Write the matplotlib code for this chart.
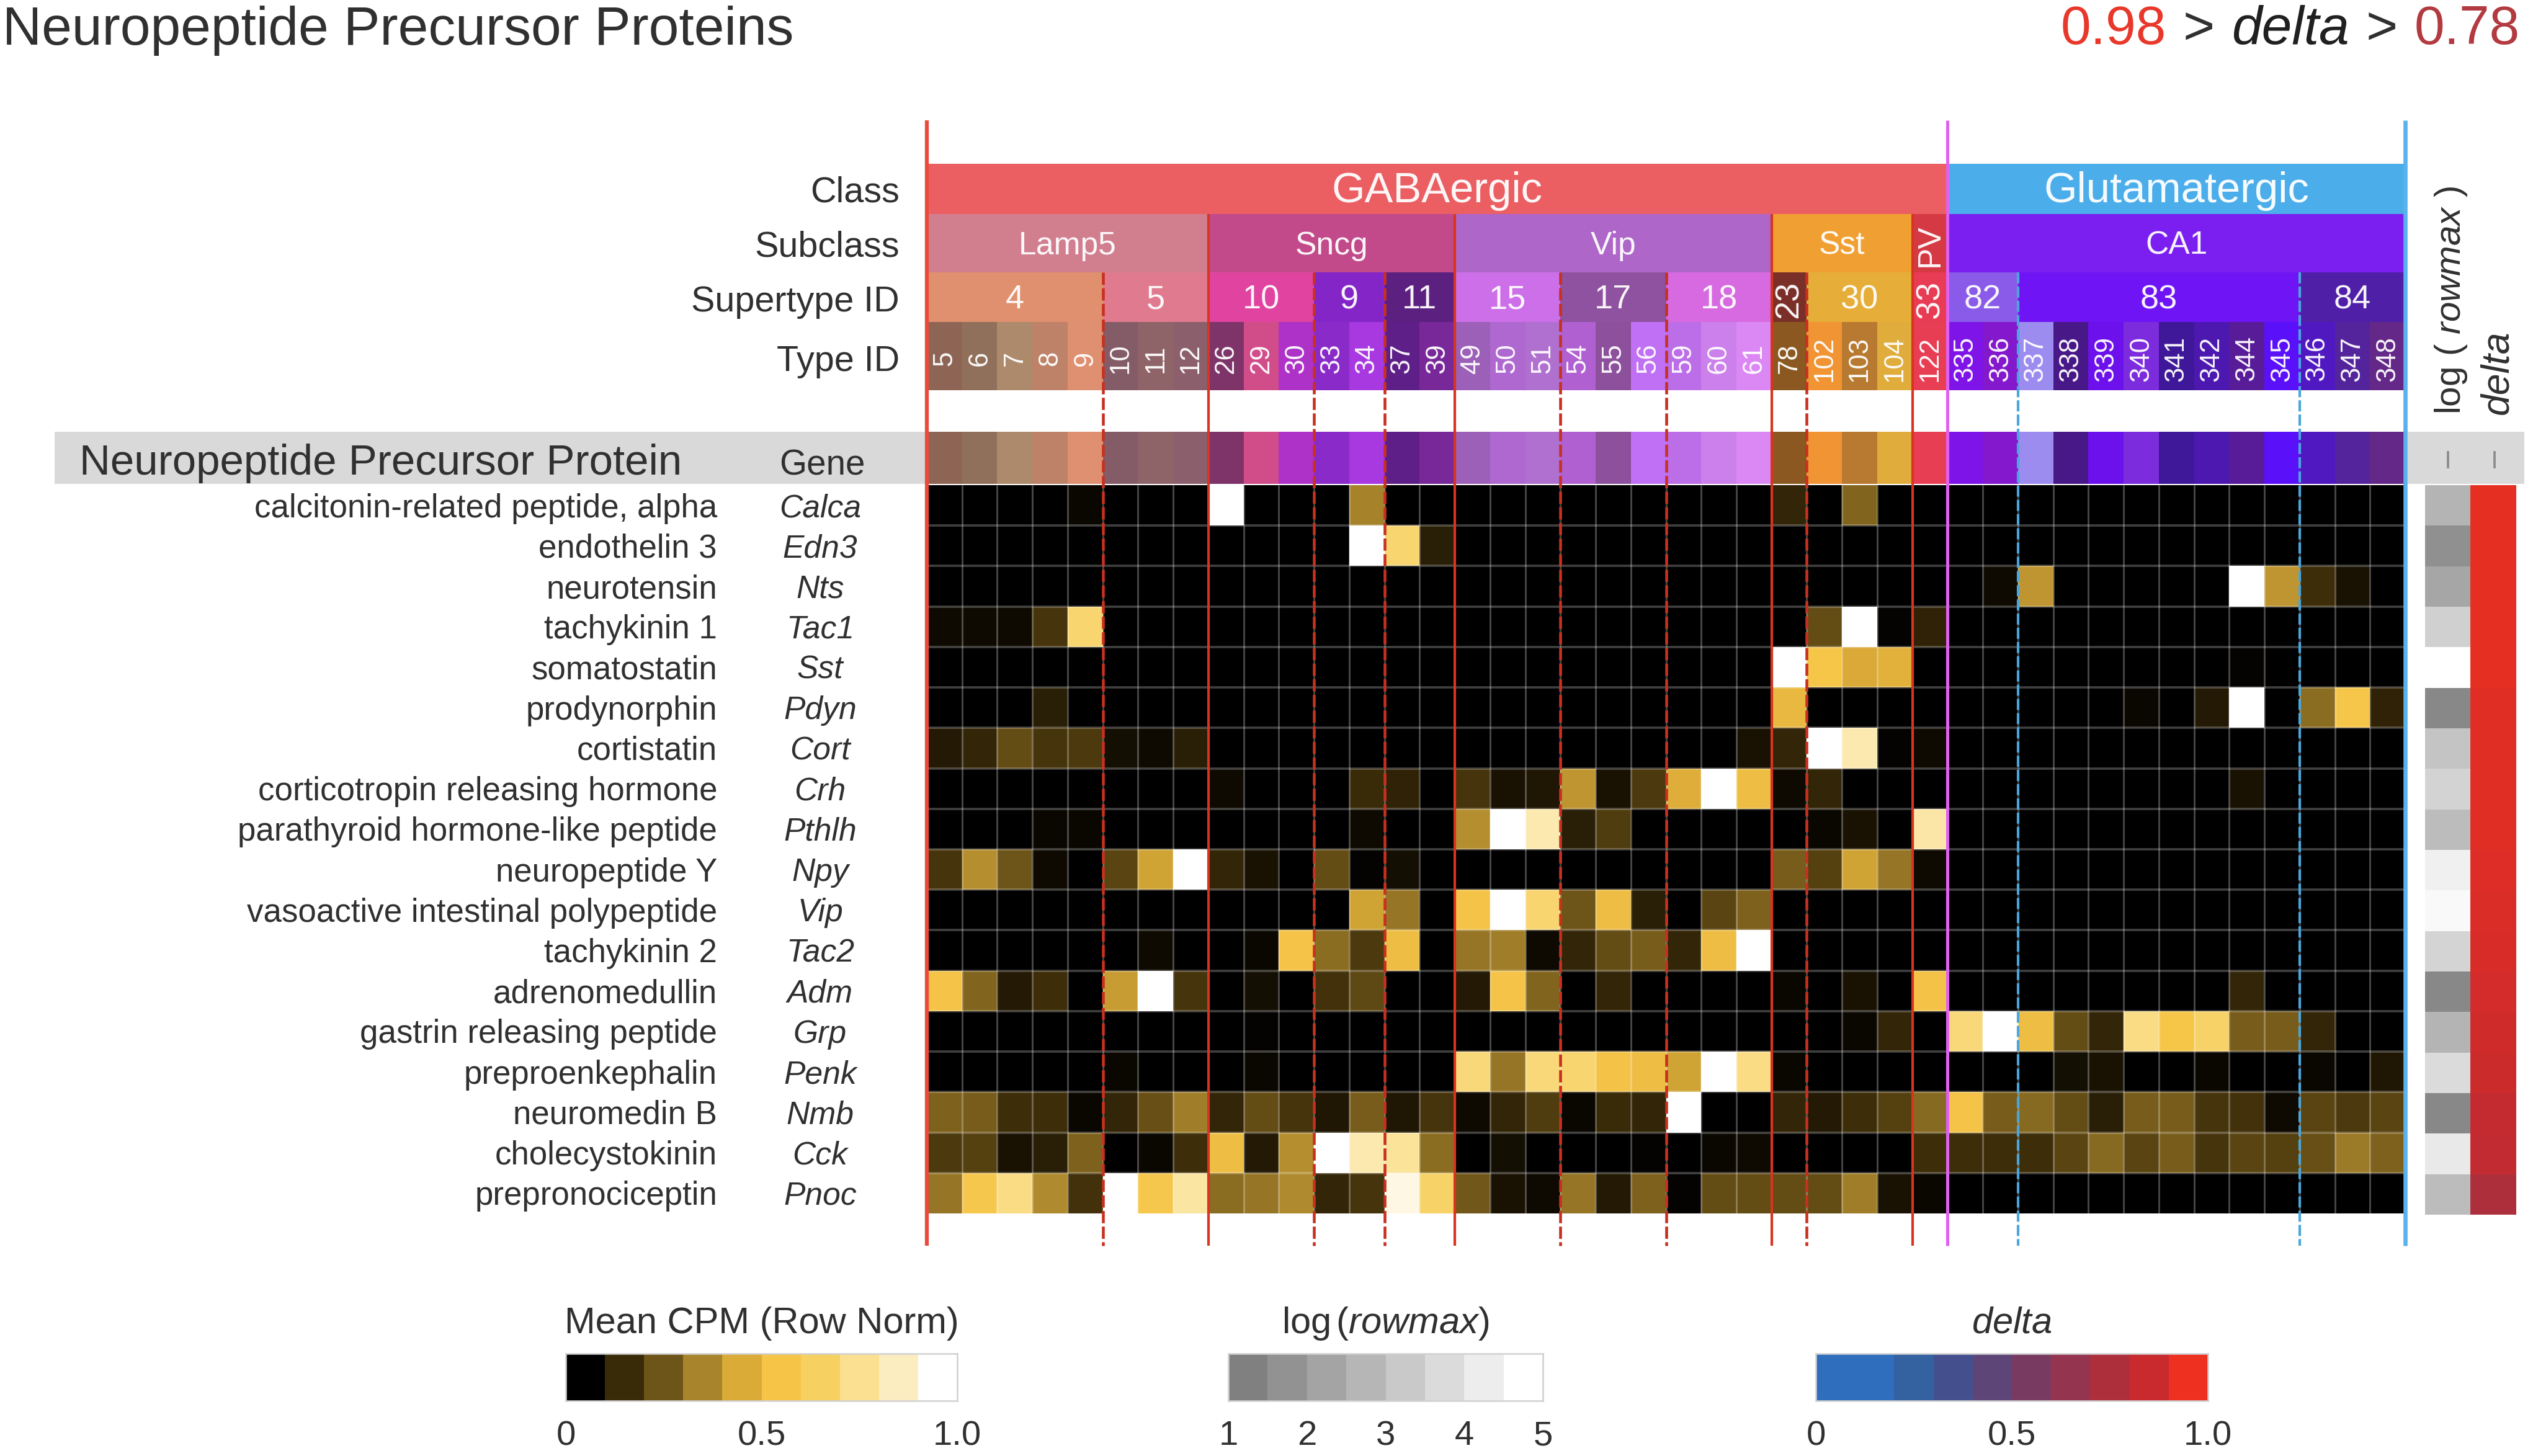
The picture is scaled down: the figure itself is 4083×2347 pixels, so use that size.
"""Neuropeptide precursor protein heatmap by cell type."""
import matplotlib
matplotlib.use('Agg')
import matplotlib.pyplot as plt
import numpy as np
from matplotlib.colors import LinearSegmentedColormap
from matplotlib.patches import Rectangle

plt.rcParams.update({
    'font.family': 'Liberation Sans',
    'mathtext.fontset': 'custom',
    'mathtext.rm': 'Liberation Sans',
    'mathtext.it': 'Liberation Sans:italic',
    'text.color': '#303030',
})

# ── Data ──
protein_names = [
    'calcitonin-related peptide, alpha', 'endothelin 3', 'neurotensin', 'tachykinin 1',
    'somatostatin', 'prodynorphin', 'cortistatin', 'corticotropin releasing hormone',
    'parathyroid hormone-like peptide', 'neuropeptide Y', 'vasoactive intestinal polypeptide',
    'tachykinin 2', 'adrenomedullin', 'gastrin releasing peptide', 'preproenkephalin',
    'neuromedin B', 'cholecystokinin', 'prepronociceptin',
]
gene_names = ['Calca', 'Edn3', 'Nts', 'Tac1', 'Sst', 'Pdyn', 'Cort', 'Crh', 'Pthlh',
              'Npy', 'Vip', 'Tac2', 'Adm', 'Grp', 'Penk', 'Nmb', 'Cck', 'Pnoc']

class_names = ['GABAergic', 'Glutamatergic']
class_spans = [29, 13]
class_colors = ['#eb5f63', '#4badea']

subclass_names = ['Lamp5', 'Sncg', 'Vip', 'Sst', 'PV', 'CA1']
subclass_spans = [8, 7, 9, 4, 1, 13]
subclass_colors = ['#d17e8f', '#c24a8a', '#ae66c8', '#f0a033', '#d53a44', '#7b1ff0']

supertype_names = ['4', '5', '10', '9', '11', '15', '17', '18', '23', '30', '33', '82', '83', '84']
supertype_spans = [5, 3, 3, 2, 2, 3, 3, 3, 1, 3, 1, 2, 8, 3]
supertype_colors = ['#e0906e', '#e07a8e', '#e044a0', '#8425c8', '#5c2080', '#cc6fe8', '#8e52a0',
                    '#d76ae0', '#7a3028', '#e6ae38', '#e83c55', '#8a5be8', '#6f14f4', '#4f1fa8']

type_ids = [5, 6, 7, 8, 9, 10, 11, 12, 26, 29, 30, 33, 34, 37, 39, 49, 50, 51, 54, 55, 56,
            59, 60, 61, 78, 102, 103, 104, 122, 335, 336, 337, 338, 339, 340, 341, 342,
            344, 345, 346, 347, 348]
type_colors = ['#8e6555', '#90705a', '#ad8a6c', '#bd8268', '#df9070', '#845c68', '#8f6468',
               '#8c5f6c', '#7e3468', '#d14d8a', '#ae32c8', '#8a2ac8', '#a838e0', '#5e2088',
               '#782898', '#9c60b8', '#ae68d0', '#b070d0', '#b060d0', '#8c509c', '#c070f4',
               '#bc6ee8', '#cc80ec', '#dc88f4', '#8a5820', '#f09434', '#b87a30', '#e0ac3c',
               '#e83e54', '#7e14e8', '#8418cc', '#9c8cf0', '#481888', '#6c10ec', '#7c2cdc',
               '#3e1898', '#4c18b0', '#581c98', '#5a10f8', '#5018c0', '#54249c', '#642888']

# Mean CPM, row normalised: one row per gene, one column per type
mean_cpm = [
    [0, 0, 0, 0, .02, 0, 0, 0, 1, 0, 0, 0, .33, 0, 0,
     0, 0, 0, 0, 0, 0, 0, 0, 0, .10, 0, .26, 0, 0,
     0, 0, 0, 0, 0, 0, 0, 0, 0, 0, 0, 0, 0],
    [0, 0, 0, 0, 0, 0, 0, 0, 0, 0, 0, 0, 1, .70, .08,
     0, 0, 0, 0, 0, 0, 0, 0, 0, 0, 0, 0, 0, 0,
     0, 0, 0, 0, 0, 0, 0, 0, 0, 0, 0, 0, 0],
    [0, 0, 0, 0, 0, 0, 0, 0, 0, 0, 0, 0, 0, 0, 0,
     0, 0, 0, 0, 0, 0, 0, 0, 0, 0, 0, 0, 0, 0,
     0, .03, .38, 0, 0, 0, 0, 0, 1, .38, .12, .05, 0],
    [.03, .03, .03, .14, .70, 0, 0, 0, 0, 0, 0, 0, 0, 0, 0,
     0, 0, 0, 0, 0, 0, 0, 0, 0, 0, .20, 1, .01, .09,
     0, 0, 0, 0, 0, 0, 0, 0, 0, 0, 0, 0, 0],
    [0, 0, 0, 0, 0, 0, 0, 0, 0, 0, 0, 0, 0, 0, 0,
     0, 0, 0, 0, 0, 0, 0, 0, 0, 1, .56, .44, .47, 0,
     0, 0, 0, 0, 0, 0, 0, 0, .01, 0, 0, 0, 0],
    [0, 0, 0, .08, 0, 0, 0, 0, 0, 0, 0, 0, 0, 0, 0,
     0, 0, 0, 0, 0, 0, 0, 0, 0, .50, 0, 0, 0, 0,
     0, 0, 0, 0, 0, .02, 0, .07, 1, 0, .28, .57, .09],
    [.07, .10, .20, .14, .15, .04, .03, .08, 0, 0, 0, 0, 0, 0, 0,
     0, 0, 0, 0, 0, 0, 0, 0, .05, .10, 1, .85, .01, .03,
     0, 0, 0, 0, 0, 0, 0, 0, 0, 0, 0, 0, 0],
    [0, 0, 0, 0, 0, 0, 0, 0, .03, 0, 0, 0, .11, .09, 0,
     .14, .05, .06, .38, .05, .15, .46, 1, .52, .03, .10, 0, 0, 0,
     0, 0, 0, 0, 0, 0, 0, 0, .05, 0, 0, 0, 0],
    [0, 0, 0, .02, .02, 0, 0, 0, 0, 0, 0, 0, .03, 0, 0,
     .36, 1, .85, .08, .16, 0, 0, 0, 0, 0, .02, .05, 0, .83,
     0, 0, 0, 0, 0, 0, 0, 0, 0, 0, 0, 0, 0],
    [.14, .36, .22, .03, 0, .18, .42, 1, .10, .05, 0, .20, .01, .04, 0,
     0, 0, 0, 0, 0, 0, 0, 0, 0, .24, .17, .42, .30, .03,
     0, 0, 0, 0, 0, 0, 0, 0, 0, 0, 0, 0, 0],
    [0, 0, 0, 0, 0, 0, 0, 0, 0, 0, 0, 0, .42, .30, 0,
     .55, 1, .70, .22, .52, .08, 0, .18, .25, 0, 0, 0, 0, 0,
     0, 0, 0, 0, 0, 0, 0, 0, 0, 0, 0, 0, 0],
    [0, 0, 0, 0, 0, 0, .03, 0, 0, .02, .55, .28, .15, .52, 0,
     .30, .32, .03, .10, .20, .24, .10, .52, 1, 0, 0, 0, 0, 0,
     0, 0, 0, 0, 0, 0, 0, 0, 0, 0, 0, 0, 0],
    [.55, .26, .07, .12, 0, .40, 1, .14, 0, .04, 0, .13, .19, 0, 0,
     .07, .55, .26, 0, .10, 0, 0, 0, 0, .02, 0, .05, 0, .54,
     0, 0, 0, 0, 0, 0, 0, 0, .10, 0, 0, 0, 0],
    [0, 0, 0, 0, 0, 0, 0, 0, 0, .01, 0, 0, 0, 0, 0,
     0, 0, 0, 0, 0, 0, 0, 0, 0, 0, 0, .02, .10, 0,
     .72, 1, .52, .20, .10, .75, .56, .68, .24, .24, .10, 0, 0],
    [0, 0, 0, 0, 0, .02, 0, 0, 0, .02, 0, 0, 0, 0, 0,
     .72, .30, .72, .70, .54, .52, .42, 1, .75, .02, 0, 0, 0, 0,
     0, 0, 0, .04, .05, 0, 0, .02, 0, 0, .02, 0, .06],
    [.25, .24, .12, .12, .02, .10, .21, .32, .10, .20, .14, .06, .24, .06, .14,
     .03, .10, .16, .02, .11, .10, 1, 0, 0, .10, .07, .12, .17, .27,
     .55, .24, .27, .20, .08, .24, .24, .14, .13, .03, .18, .15, .18],
    [.15, .17, .05, .08, .25, 0, .02, .12, .52, .07, .36, 1, .85, .80, .28,
     0, .04, 0, 0, 0, .01, 0, .02, .03, 0, 0, 0, 0, .12,
     .12, .12, .12, .18, .27, .18, .24, .14, .18, .17, .21, .31, .25],
    [.30, .58, .75, .35, .13, 1, .58, .82, .28, .30, .35, .10, .14, .95, .68,
     .23, .05, .03, .30, .07, .25, .01, .20, .20, .20, .20, .32, .05, .02,
     0, 0, 0, 0, 0, 0, 0, 0, 0, 0, 0, 0, 0],
]
log_rowmax = [2.64, 1.5, 2.2, 3.5, 5.0, 1.25, 3.14, 3.6, 2.9,
              4.5, 4.8, 3.65, 1.25, 2.64, 3.85, 1.25, 4.3, 2.9]
delta_vals = [.97, .97, .97, .97, .97, .96, .96, .96, .96,
              .95, .94, .93, .92, .91, .90, .87, .86, .78]

# solid/dashed group boundaries, in columns
solid_red = [8, 15, 24, 28]
dashed_red = [5, 11, 13, 18, 21, 25]
dashed_blue = [31, 39]
first_line, class_line, last_line = 0, 29, 42

cpm_colors = ['#000000', '#3a2a08', '#6e5518', '#a8852c', '#dcab38',
              '#f6c548', '#f6d060', '#fbe090', '#fcedc0', '#ffffff']
delta_colors = ['#2e6ebc', '#2e6ebc', '#34619f', '#44508e', '#5e4578',
                '#793a62', '#94344e', '#ad2f3c', '#c82a2e', '#ee3020']
# legend swatches sit on the colour nodes, so both ends reach black/white and full red
cpm_levels = [0, .111, .222, .333, .444, .556, .667, .778, .889, 1]
rowmax_levels = [1, 1.57, 2.14, 2.71, 3.29, 3.86, 4.43, 5]
delta_levels = [0, .111, .222, .333, .444, .556, .667, .778, .889, 1]

cmap_cpm = LinearSegmentedColormap.from_list('cpm', cpm_colors)
cmap_rowmax = LinearSegmentedColormap.from_list('rowmax', ['#808080', '#ffffff'])
cmap_delta = LinearSegmentedColormap.from_list('delta', delta_colors)

W, H = 4083, 2347
fig = plt.figure(figsize=(W / 300, H / 300), dpi=300, facecolor='white')


def px_axes(x0, y0, x1, y1, zorder=1):
    ax = fig.add_axes([x0 / W, 1 - y1 / H, (x1 - x0) / W, (y1 - y0) / H], zorder=zorder)
    return ax


# Canvas in pixels, for the text and the grey gene row
canvas = px_axes(0, 0, W, H, zorder=0)
canvas.set_xlim(0, W)
canvas.set_ylim(H, 0)
canvas.axis('off')
canvas.add_patch(Rectangle((88, 696), 1406, 84, color='#d9d9d9', lw=0))
canvas.add_patch(Rectangle((3881, 696), 188, 84, color='#d9d9d9', lw=0))
canvas.vlines([3946, 4021], 727, 755, color='#8c8c8c', lw=0.9)

LEFT, RIGHT = 1494, 3877
TOP, BOTTOM = 782, 1956

# Heatmap
ax_heat = px_axes(LEFT, TOP, RIGHT, BOTTOM)
ax_heat.pcolormesh(np.arange(43), np.arange(19), np.array(mean_cpm), cmap=cmap_cpm, vmin=0, vmax=1)
ax_heat.vlines(np.arange(1, 42), 0, 18, color='white', alpha=0.28, lw=0.7)
ax_heat.hlines(np.arange(1, 18), 0, 42, color='white', alpha=0.25, lw=0.9)
ax_heat.set_xlim(0, 42)
ax_heat.set_ylim(18, 0)
ax_heat.axis('off')

# Header bands, x in columns and y in pixels
ax_head = px_axes(LEFT, 264, RIGHT, 780, zorder=3)
ax_head.set_xlim(0, 42)
ax_head.set_ylim(780, 264)
ax_head.axis('off')


def draw_band(names, spans, colors, top, bottom, size, vertical_below=2):
    starts = np.cumsum([0] + spans[:-1])
    ax_head.bar(starts, bottom - top, width=spans, bottom=top, align='edge', color=colors, lw=0)
    for name, start, span in zip(names, starts, spans):
        rot = 90 if span < vertical_below else 0
        ax_head.text(start + span / 2, (top + bottom) / 2 + 4, name, ha='center', va='center',
                     color='white', fontsize=size, rotation=rot, alpha=0.95)


draw_band(class_names, class_spans, class_colors, 264, 345, 16.5)
draw_band(subclass_names, subclass_spans, subclass_colors, 345, 439, 12.4)
draw_band(supertype_names, supertype_spans, supertype_colors, 439, 519, 13)

columns = np.arange(len(type_ids))
ax_head.bar(columns, 110, width=1, bottom=519, align='edge', color=type_colors, lw=0)
ax_head.bar(columns, 84, width=1, bottom=696, align='edge', color=type_colors, lw=0)
for col, type_id in zip(columns, type_ids):
    ax_head.text(col + 0.5, 578, str(type_id), ha='center', va='center', color='white',
                 fontsize=10.5, rotation=90, alpha=0.95)

# Group boundaries run through header and heatmap
LINE_END = 2008
ax_head.vlines(first_line, 194, LINE_END, color='#ea4a3c', lw=1.5, clip_on=False, zorder=5)
ax_head.vlines(class_line, 194, LINE_END, color='#e060f0', lw=1.2, clip_on=False, zorder=5)
ax_head.vlines(last_line, 194, LINE_END, color='#58b2ee', lw=1.6, clip_on=False, zorder=5)
ax_head.vlines(solid_red, 345, LINE_END, color='#d8341f', lw=1.0, clip_on=False, zorder=5)
ax_head.vlines(dashed_red, 439, LINE_END, color='#c8301f', lw=1.1,
               linestyles=(0, (4.3, 1.2)), clip_on=False, zorder=5)
ax_head.vlines(dashed_blue, 439, LINE_END, color='#4aa6dc', lw=1.0,
               linestyles=(0, (4.3, 1.2)), clip_on=False, zorder=5)

# log(rowmax) and delta side columns
ax_side = px_axes(3909, TOP, 4058, BOTTOM + 2)
edges = np.arange(19)
ax_side.pcolormesh([0, 1], edges, np.array(log_rowmax)[:, None], cmap=cmap_rowmax, vmin=1, vmax=5)
ax_side.pcolormesh([1, 2], edges, np.array(delta_vals)[:, None], cmap=cmap_delta, vmin=0, vmax=1)
ax_side.set_xlim(0, 2.03)
ax_side.set_ylim(18, 0)
ax_side.axis('off')

# Titles
canvas.text(4, 49, 'Neuropeptide Precursor Proteins', fontsize=21, ha='left', va='center')
renderer = fig.canvas.get_renderer()
title_parts = [('0.78', '#b23a40', 'normal'), ('>', '#303030', 'normal'), ('delta', '#202020', 'italic'),
               ('>', '#303030', 'normal'), ('0.98', '#e8382b', 'normal')]
x_right = 4062
for part, color, style in title_parts:
    txt = canvas.text(x_right, 49, part, color=color, style=style, fontsize=21,
                      ha='right', va='center')
    x_right -= txt.get_window_extent(renderer).width + 27

# Row and header labels
for label, y in zip(['Class', 'Subclass', 'Supertype ID', 'Type ID'], [310, 398, 487, 583]):
    canvas.text(1450, y, label, ha='right', va='center', fontsize=13.8)
canvas.text(128, 747, 'Neuropeptide Precursor Protein', ha='left', va='center', fontsize=16.6)
canvas.text(1325, 750, 'Gene', ha='center', va='center', fontsize=13.6)
row_y = np.interp(np.arange(18) + 0.5, [0, 18], [TOP, BOTTOM]) + 5
for name, gene, y in zip(protein_names, gene_names, row_y):
    canvas.text(1156, y, name, ha='right', va='center', fontsize=12.7)
    canvas.text(1322, y, gene, ha='center', va='center', fontsize=12.4, style='italic')
canvas.text(3951, 668, 'log ( $\\mathit{rowmax}$ )', rotation=90, ha='center', va='bottom', fontsize=14)
canvas.text(4026, 668, 'delta', rotation=90, ha='center', va='bottom', fontsize=15, style='italic')


# Legends
def draw_legend(x0, x1, levels, cmap, vmin, vmax, ticks, ticklabels, title):
    ax = px_axes(x0, 2182, x1, 2258)
    swatch_edges = np.linspace(vmin, vmax, len(levels) + 1)
    ax.pcolormesh(swatch_edges, [0, 1], np.array([levels]), cmap=cmap, vmin=vmin, vmax=vmax)
    ax.set_xlim(vmin, vmax)
    ax.set_ylim(0, 1)
    ax.set_yticks([])
    ax.set_xticks(ticks)
    ax.set_xticklabels(ticklabels, fontsize=13.5, color='#303030')
    ax.tick_params(axis='x', length=0, pad=7.5)
    for spine in ax.spines.values():
        spine.set_color('#d0d0d0')
        spine.set_linewidth(0.6)
    ax.set_title(title, fontsize=14.3, color='#303030', pad=8)


draw_legend(912, 1543, cpm_levels, cmap_cpm, 0, 1, [0, .5, 1], ['0', '0.5', '1.0'], 'Mean CPM (Row Norm)')
draw_legend(1980, 2487, rowmax_levels, cmap_rowmax, 1, 5, [1, 2, 3, 4, 5], ['1', '2', '3', '4', '5'],
            'log$\\,$($\\mathit{rowmax}$)')
draw_legend(2927, 3559, delta_levels, cmap_delta, 0, 1, [0, .5, 1], ['0', '0.5', '1.0'], '$\\mathit{delta}$')

fig.savefig('out.png', dpi=300, facecolor='white')
